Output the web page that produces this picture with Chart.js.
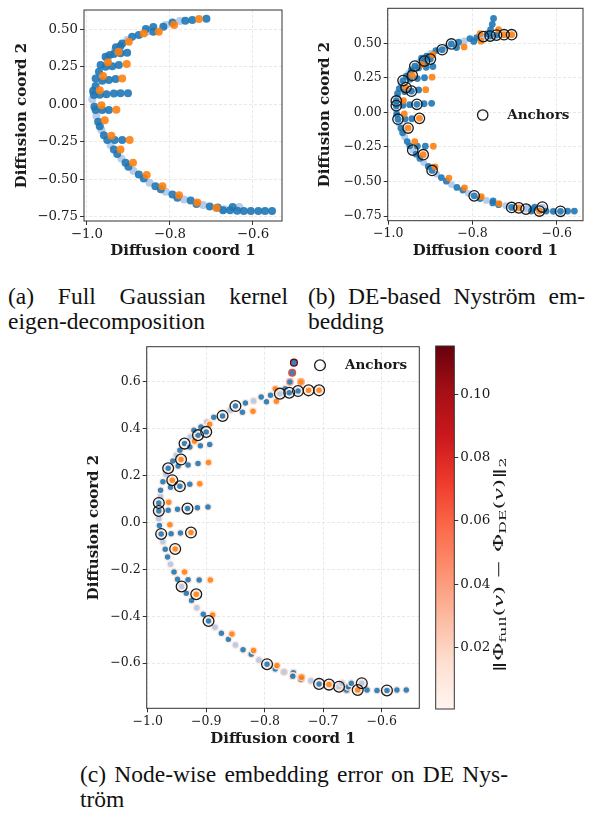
<!DOCTYPE html>
<html>
<head>
<meta charset="utf-8">
<script src="https://cdn.jsdelivr.net/npm/chart.js@4.4.1/dist/chart.umd.min.js"></script>
<style>
  body { margin: 0; width: 595px; height: 818px; background: #fff; position: relative; overflow: hidden; }
  canvas { position: absolute; }
  .cap { position: absolute; font-family: "Liberation Serif", serif; font-size: 23.5px; line-height: 25px; color: #111; }
  .cap div { white-space: nowrap; }
  .cap .j { text-align: justify; text-align-last: justify; white-space: normal; }
</style>
</head>
<body>
<canvas id="full" width="290" height="265" style="left:0;top:0"></canvas>
<canvas id="nys" width="305" height="265" style="left:290px;top:0"></canvas>
<canvas id="err" width="360" height="420" style="left:70px;top:340px"></canvas>
<canvas id="cbar" width="165" height="380" style="left:430px;top:340px"></canvas>

<div class="cap" style="left:8px;top:284px;width:280px">
  <div class="j">(a) Full Gaussian kernel</div>
  <div>eigen-decomposition</div>
</div>
<div class="cap" style="left:308px;top:284px;width:277px">
  <div class="j">(b) DE-based Nyström em-</div>
  <div>bedding</div>
</div>
<div class="cap" style="left:80px;top:762px;width:428px">
  <div class="j">(c) Node-wise embedding error on DE Nys-</div>
  <div>tröm</div>
</div>

<script>
// tick values
const xTicksWide = [-1.0, -0.8, -0.6];
const yTicksWide = [0.5, 0.25, 0, -0.25, -0.5, -0.75];
const xTicksErr = [-1.0, -0.9, -0.8, -0.7, -0.6];
const yTicksErr = [0.6, 0.4, 0.2, 0, -0.2, -0.4, -0.6];
const cbarTicks = [0.02, 0.04, 0.06, 0.08, 0.10];
const cbarMin = 0.0005, cbarMax = 0.1153;

// (a) full eigen-decomposition
const fullLight = [[-0.776,0.553],[-0.810,0.527],[-0.855,0.482],[-0.903,0.427],[-0.932,0.360],[-0.951,0.298],
  [-0.985,0.075],[-0.987,0.031],[-0.977,-0.080],[-0.965,-0.173],[-0.943,-0.273],[-0.917,-0.362],[-0.888,-0.444],
  [-0.849,-0.524],[-0.810,-0.584],[-0.766,-0.636],[-0.720,-0.673],[-0.669,-0.700],[-0.633,-0.685]];
const fullBlue = [[-0.712,0.569],[-0.746,0.560],[-0.763,0.556],[-0.794,0.543],[-0.816,0.516],[-0.840,0.513],
  [-0.840,0.482],[-0.858,0.500],[-0.875,0.460],[-0.891,0.449],[-0.915,0.404],[-0.919,0.387],[-0.930,0.378],
  [-0.903,0.342],[-0.919,0.338],[-0.935,0.333],[-0.945,0.327],[-0.955,0.316],[-0.923,0.260],[-0.939,0.253],
  [-0.955,0.249],[-0.967,0.260],[-0.971,0.216],[-0.931,0.167],[-0.947,0.160],[-0.963,0.156],[-0.979,0.171],
  [-0.979,0.120],[-0.985,0.089],[-0.901,0.073],[-0.919,0.073],[-0.935,0.070],[-0.953,0.065],[-0.969,0.062],
  [-0.983,0.060],[-0.982,-0.018],[-0.947,-0.040],[-0.963,-0.040],[-0.979,-0.040],[-0.973,-0.118],[-0.969,-0.147],
  [-0.959,-0.207],[-0.951,-0.240],[-0.933,-0.240],[-0.915,-0.240],[-0.935,-0.302],[-0.927,-0.333],[-0.907,-0.391],
  [-0.900,-0.418],[-0.875,-0.469],[-0.863,-0.496],[-0.835,-0.547],[-0.822,-0.567],[-0.794,-0.602],[-0.782,-0.624],
  [-0.750,-0.642],[-0.736,-0.665],[-0.704,-0.682],[-0.685,-0.689],[-0.672,-0.707],[-0.655,-0.707],[-0.649,-0.685],
  [-0.638,-0.711],[-0.622,-0.713],[-0.605,-0.713],[-0.587,-0.713],[-0.571,-0.713],[-0.554,-0.713]];
const fullOrange = [[-0.730,0.567],[-0.790,0.527],[-0.827,0.482],[-0.863,0.471],[-0.899,0.416],[-0.924,0.349],
  [-0.949,0.278],[-0.904,0.267],[-0.961,0.187],[-0.915,0.171],[-0.969,0.093],[-0.965,-0.007],[-0.929,-0.038],
  [-0.957,-0.107],[-0.941,-0.211],[-0.897,-0.240],[-0.919,-0.302],[-0.889,-0.391],[-0.856,-0.473],[-0.818,-0.547],
  [-0.778,-0.607],[-0.734,-0.655],[-0.688,-0.693]];

// (b) and (c) DE Nystrom embedding, with per node error
const nysLight = [[-0.774,0.549],[-0.819,0.518],[-0.859,0.478],[-0.899,0.428],[-0.927,0.364],[-0.951,0.286],
  [-0.969,0.204],[-0.978,0.112],[-0.981,0.016],[-0.974,-0.082],[-0.961,-0.178],[-0.942,-0.273],[-0.916,-0.363],
  [-0.885,-0.447],[-0.850,-0.522],[-0.810,-0.586],[-0.767,-0.637],[-0.721,-0.675],[-0.673,-0.700],[-0.668,-0.685],
  [-0.634,-0.685]];
const nysLightErr = [0.010,0.012,0.012,0.010,0.010,0.010,0.008,0.008,0.008,0.008,0.008,0.008,0.008,
  0.008,0.008,0.010,0.018,0.012,0.015,0.015,0.012];
const nysBlue = [[-0.750,0.681],[-0.753,0.638],[-0.757,0.599],[-0.765,0.570],[-0.758,0.553],[-0.743,0.560],
  [-0.790,0.542],[-0.797,0.514],[-0.806,0.535],[-0.833,0.509],[-0.838,0.470],[-0.850,0.496],[-0.872,0.454],
  [-0.887,0.448],[-0.909,0.407],[-0.900,0.386],[-0.914,0.372],[-0.921,0.393],[-0.910,0.327],[-0.894,0.332],
  [-0.937,0.336],[-0.928,0.322],[-0.945,0.308],[-0.957,0.262],[-0.914,0.251],[-0.931,0.245],[-0.948,0.241],
  [-0.965,0.231],[-0.974,0.173],[-0.945,0.154],[-0.961,0.150],[-0.928,0.163],[-0.978,0.137],[-0.981,0.083],
  [-0.981,0.049],[-0.965,0.052],[-0.949,0.056],[-0.932,0.059],[-0.915,0.063],[-0.897,0.066],[-0.980,-0.013],
  [-0.977,-0.049],[-0.960,-0.048],[-0.944,-0.045],[-0.970,-0.114],[-0.966,-0.147],[-0.955,-0.211],[-0.949,-0.242],
  [-0.931,-0.244],[-0.912,-0.245],[-0.934,-0.302],[-0.925,-0.333],[-0.905,-0.391],[-0.896,-0.420],[-0.874,-0.472],
  [-0.862,-0.498],[-0.837,-0.543],[-0.823,-0.562],[-0.796,-0.604],[-0.782,-0.624],[-0.751,-0.640],[-0.752,-0.655],
  [-0.738,-0.668],[-0.707,-0.688],[-0.660,-0.714],[-0.657,-0.700],[-0.652,-0.685],[-0.625,-0.714],[-0.608,-0.716],
  [-0.591,-0.716],[-0.574,-0.714],[-0.558,-0.714]];
const nysBlueErr = [0.112,0.068,0.032,0.015,0.010,0.010,0.008,0.008,0.008,0.008,0.008,0.008,0.008,
  0.008,0.008,0.008,0.008,0.008,0.008,0.008,0.008,0.008,0.008,0.008,0.008,0.008,0.008,
  0.008,0.008,0.008,0.008,0.008,0.008,0.008,0.008,0.008,0.008,0.008,0.008,0.008,0.008,
  0.008,0.008,0.008,0.008,0.008,0.008,0.008,0.008,0.008,0.008,0.008,0.008,0.008,0.008,
  0.008,0.008,0.015,0.010,0.010,0.015,0.015,0.020,0.010,0.025,0.015,0.010,0.010,0.010,
  0.010,0.010,0.010];
const nysOrange = [[-0.738,0.599],[-0.725,0.563],[-0.707,0.563],[-0.782,0.570],[-0.780,0.516],[-0.820,0.474],
  [-0.894,0.418],[-0.920,0.346],[-0.943,0.268],[-0.896,0.255],[-0.958,0.180],[-0.911,0.165],[-0.964,0.086],
  [-0.962,-0.010],[-0.926,-0.043],[-0.953,-0.113],[-0.937,-0.211],[-0.893,-0.245],[-0.917,-0.306],[-0.889,-0.394],
  [-0.856,-0.475],[-0.819,-0.546],[-0.779,-0.610],[-0.737,-0.660],[-0.690,-0.691],[-0.641,-0.714]];
const nysOrangeErr = [0.032,0.012,0.012,0.010,0.010,0.010,0.010,0.010,0.010,0.012,0.010,0.010,0.010,
  0.010,0.010,0.010,0.010,0.010,0.010,0.010,0.012,0.012,0.015,0.025,0.015,0.015];
const anchors = [[-0.774,0.549],[-0.758,0.553],[-0.743,0.560],[-0.725,0.563],[-0.707,0.563],[-0.850,0.496],
  [-0.872,0.454],[-0.900,0.386],[-0.914,0.372],[-0.937,0.336],[-0.943,0.268],[-0.965,0.231],[-0.958,0.180],
  [-0.945,0.154],[-0.981,0.083],[-0.981,0.049],[-0.932,0.059],[-0.977,-0.049],[-0.926,-0.043],[-0.953,-0.113],
  [-0.942,-0.273],[-0.917,-0.306],[-0.896,-0.420],[-0.796,-0.604],[-0.707,-0.688],[-0.690,-0.691],[-0.673,-0.700],
  [-0.634,-0.685],[-0.641,-0.714],[-0.591,-0.716]];

const BLUE = "rgba(31,119,180,0.9)";
const LIGHT = "rgba(174,199,232,0.9)";
const ORANGE = "rgba(255,127,14,0.9)";
const INK = "#1a1a1a";

// matplotlib Reds
const reds = ["#fff5f0", "#fee0d2", "#fcbba1", "#fc9272", "#fb6a4a", "#ef3b2c", "#cb181d", "#a50f15", "#67000d"];

function hex(c) {
  return [1, 3, 5].map(i => parseInt(c.substr(i, 2), 16));
}

function redColor(v) {
  let t = (v - cbarMin) / (cbarMax - cbarMin);
  t = Math.max(0, Math.min(1, t)) * (reds.length - 1);
  const i = Math.min(reds.length - 2, Math.floor(t));
  const a = hex(reds[i]), b = hex(reds[i + 1]);
  const f = t - i;
  const c = a.map((x, k) => Math.round(x + (b[k] - x) * f));
  return `rgb(${c[0]},${c[1]},${c[2]})`;
}

const pts = arr => arr.map(p => ({ x: p[0], y: p[1] }));
const fmt = d => v => v.toFixed(d).replace("-", "\u2212");

function scaleCfg(pos, min, max, ticks, dec, fit, tickSize, title, titlePad) {
  const vertical = pos === "left" || pos === "right";
  return {
    type: "linear",
    position: pos,
    min: min,
    max: max,
    afterBuildTicks: s => { s.ticks = ticks.map(v => ({ value: v })); },
    afterFit: s => {
      if (vertical) s.width = fit; else s.height = fit;
      s.paddingTop = 0; s.paddingBottom = 0; s.paddingLeft = 0; s.paddingRight = 0;
    },
    ticks: {
      autoSkip: false, maxRotation: 0, padding: 2, color: INK,
      font: { family: "DejaVu Serif", size: tickSize },
      callback: fmt(dec)
    },
    grid: { color: "#e2e2e2", lineWidth: 0.8, tickLength: 4, tickColor: "#333", tickWidth: 1 },
    border: { display: false, dash: [3, 2] },
    title: title ? {
      display: true, text: title, color: INK,
      font: { family: "DejaVu Serif", weight: "bold", size: 15, lineHeight: 1 },
      padding: vertical ? { top: titlePad } : { bottom: titlePad }
    } : { display: false }
  };
}

const framePlugin = {
  id: "frame",
  afterDraw(chart) {
    const { ctx, chartArea: a } = chart;
    ctx.save();
    ctx.strokeStyle = "#333";
    ctx.lineWidth = 1;
    ctx.strokeRect(a.left, a.top, a.right - a.left, a.bottom - a.top);
    ctx.restore();
  }
};

const anchorLegend = {
  id: "anchorLegend",
  afterDraw(chart, args, o) {
    const ctx = chart.ctx;
    ctx.save();
    ctx.beginPath();
    ctx.arc(o.x, o.y, o.r, 0, Math.PI * 2);
    ctx.lineWidth = 1.3;
    ctx.strokeStyle = INK;
    ctx.stroke();
    ctx.font = "bold 13.5px 'DejaVu Serif'";
    ctx.fillStyle = INK;
    ctx.textBaseline = "middle";
    ctx.fillText("Anchors", o.tx, o.y);
    ctx.restore();
  }
};

function group(data, color, r, order, err) {
  return {
    data: pts(data),
    pointBackgroundColor: color,
    pointBorderColor: err ? err.map(redColor) : "rgba(0,0,0,0)",
    pointBorderWidth: err ? 1.3 : 0,
    pointRadius: r,
    pointHoverRadius: r,
    order: order
  };
}

function anchorSet(r) {
  return {
    data: pts(anchors),
    pointBackgroundColor: "rgba(0,0,0,0)",
    pointBorderColor: INK,
    pointBorderWidth: 1.3,
    pointRadius: r,
    pointHoverRadius: r,
    order: 0
  };
}

function makePanel(id, c) {
  return new Chart(document.getElementById(id), {
    type: "scatter",
    data: { datasets: c.datasets },
    options: {
      responsive: false,
      animation: false,
      devicePixelRatio: 1,
      layout: { padding: c.pad },
      plugins: { legend: { display: false }, tooltip: { enabled: false }, anchorLegend: c.legend },
      scales: {
        x: scaleCfg("bottom", c.x[0], c.x[1], c.xTicks, 1, c.xFit, c.tickSize, "Diffusion coord 1", c.xTitlePad),
        y: scaleCfg("left", c.y[0], c.y[1], c.yTicks, c.yDec, c.yFit, c.tickSize, "Diffusion coord 2", c.yTitlePad)
      }
    },
    plugins: c.legend ? [framePlugin, anchorLegend] : [framePlugin]
  });
}

makePanel("full", {
  datasets: [group(fullLight, LIGHT, 4, 3), group(fullBlue, BLUE, 4, 2), group(fullOrange, ORANGE, 4, 1)],
  pad: { left: 0, right: 8, top: 10, bottom: 0 },
  x: [-1.007, -0.530], y: [-0.779, 0.627],
  xTicks: xTicksWide, yTicks: yTicksWide, yDec: 2,
  xFit: 44, yFit: 84, tickSize: 13.3, xTitlePad: 6.5, yTitlePad: 14.5
});

makePanel("nys", {
  datasets: [group(nysLight, LIGHT, 3.4, 3), group(nysBlue, BLUE, 3.4, 2), group(nysOrange, ORANGE, 3.4, 1), anchorSet(5.2)],
  pad: { left: 0, right: 12, top: 8.3, bottom: 0 },
  x: [-1.0014, -0.5375], y: [-0.784, 0.754],
  xTicks: xTicksWide, yTicks: yTicksWide, yDec: 2,
  xFit: 44.3, yFit: 97.7, tickSize: 12.5, xTitlePad: 6, yTitlePad: 28,
  legend: { x: 192.7, y: 115, r: 5.2, tx: 217.3 }
});

makePanel("err", {
  datasets: [group(nysLight, LIGHT, 3.4, 3, nysLightErr), group(nysBlue, BLUE, 3.4, 2, nysBlueErr),
    group(nysOrange, ORANGE, 3.4, 1, nysOrangeErr), anchorSet(5.4)],
  pad: { left: 0, right: 10.7, top: 6.7, bottom: 0 },
  x: [-1.0017, -0.5357], y: [-0.792, 0.749],
  xTicks: xTicksErr, yTicks: yTicksErr, yDec: 1,
  xFit: 51.7, yFit: 76.7, tickSize: 12.5, xTitlePad: 13.5, yTitlePad: 17,
  legend: { x: 250, y: 25.3, r: 5.4, tx: 275 }
});

// colour bar
const gradientPlugin = {
  id: "gradient",
  beforeDatasetsDraw(chart) {
    const { ctx, chartArea: a } = chart;
    const g = ctx.createLinearGradient(0, a.bottom, 0, a.top);
    reds.forEach((c, i) => g.addColorStop(i / (reds.length - 1), c));
    ctx.save();
    ctx.fillStyle = g;
    ctx.fillRect(a.left, a.top, a.right - a.left, a.bottom - a.top);
    ctx.restore();
  }
};

const cbarLabel = {
  id: "cbarLabel",
  afterDraw(chart) {
    const ctx = chart.ctx;
    const runs = [
      ["\u2016\u03A6", 13, 0, ""], ["full", 9, 3, ""], ["(", 13, 0, ""], ["v", 13, 0, "italic "],
      [") \u2212 \u03A6", 13, 0, ""], ["DE", 9, 3, ""], ["(", 13, 0, ""], ["v", 13, 0, "italic "],
      [")\u2016", 13, 0, ""], ["2", 9, 3, ""]
    ];
    ctx.save();
    let w = 0;
    runs.forEach(r => { ctx.font = `${r[3]}${r[1]}px 'DejaVu Serif'`; r.push(ctx.measureText(r[0]).width); w += r[4]; });
    ctx.translate(68.5, 225);
    ctx.rotate(-Math.PI / 2);
    ctx.scale(215 / w, 1);
    ctx.fillStyle = INK;
    ctx.textBaseline = "alphabetic";
    let x = -w / 2;
    runs.forEach(r => {
      ctx.font = `${r[3]}${r[1]}px 'DejaVu Serif'`;
      ctx.fillText(r[0], x, 4.6 + r[2]);
      x += r[4];
    });
    ctx.restore();
  }
};

const cbarScale = scaleCfg("right", cbarMin, cbarMax, cbarTicks, 2, 140.7, 13.5, null, 0);
cbarScale.grid.drawOnChartArea = false;

new Chart(document.getElementById("cbar"), {
  type: "scatter",
  data: { datasets: [] },
  options: {
    responsive: false,
    animation: false,
    devicePixelRatio: 1,
    layout: { padding: { left: 5.7, right: 0, top: 6, bottom: 11 } },
    plugins: { legend: { display: false }, tooltip: { enabled: false } },
    scales: {
      x: { display: false, min: 0, max: 1 },
      y: cbarScale
    }
  },
  plugins: [gradientPlugin, framePlugin, cbarLabel]
});
</script>
</body>
</html>
